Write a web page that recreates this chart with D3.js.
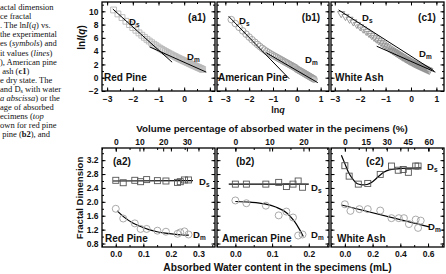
<!DOCTYPE html>
<html>
<head>
<meta charset="utf-8">
<script src="https://cdn.jsdelivr.net/npm/d3@7"></script>
<style>
  body { margin: 0; background: #fff; }
  svg { display: block; }
  text { font-family: "Liberation Sans", Arial, sans-serif; font-weight: bold; fill: #111; }
  .cap { font-family: "Liberation Serif", "Times New Roman", serif; font-weight: normal; font-size: 8.5px; white-space: pre; }
</style>
</head>
<body>
<svg id="fig" width="446" height="274"></svg>
<script>
// ---- data -----------------------------------------------------------------
// shared lnq grid of the scattering curves
var lnq = [-2.75,-2.58,-2.42,-2.27,-2.13,-2.00,-1.88,-1.76,-1.65,-1.55,-1.45,-1.36,-1.27,-1.18,-1.10,-1.02,
  -0.94,-0.87,-0.80,-0.73,-0.66,-0.60,-0.54,-0.48,-0.42,-0.36,-0.31,-0.25,-0.20,-0.15,-0.10,-0.05,
  0.00,0.05,0.10,0.14,0.19,0.23,0.28,0.32,0.36,0.40,0.44,0.48,0.52,0.56,0.60,0.64,0.68,0.72]

var lnIRedPine = [10.2,9.6,9.05,8.5,8.0,7.55,7.15,6.75,6.4,6.08,5.78,5.52,5.27,5.03,4.82,4.62,
  4.43,4.26,4.10,3.95,3.80,3.67,3.55,3.43,3.31,3.19,3.09,2.98,2.88,2.79,2.70,2.61,
  2.52,2.43,2.34,2.27,2.18,2.11,2.02,1.95,1.88,1.81,1.74,1.67,1.60,1.53,1.46,1.39,1.32,1.25]

var lnIAmericanPine = [8.75,8.15,7.58,7.05,6.56,6.12,5.72,5.34,5.00,4.70,4.42,4.18,3.96,3.76,3.58,3.42,
  3.26,3.12,2.98,2.84,2.70,2.58,2.46,2.34,2.22,2.10,2.00,1.88,1.78,1.68,1.58,1.48,
  1.30,1.20,1.10,1.02,0.92,0.83,0.73,0.64,0.56,0.47,0.39,0.30,0.22,0.13,0.05,-0.04,-0.12,-0.21]

var lnIWhiteAsh = [9.65,9.22,8.8,8.4,8.02,7.66,7.32,6.98,6.66,6.37,6.08,5.82,5.56,5.31,5.08,4.86,
  4.65,4.46,4.28,4.10,3.93,3.78,3.63,3.48,3.34,3.2,3.08,2.95,2.83,2.72,2.61,2.50,
  2.40,2.30,2.20,2.12,2.03,1.95,1.86,1.79,1.72,1.65,1.58,1.51,1.44,1.37,1.30,1.23,1.16,1.09]

// fitted straight lines [lnq, lnI] (surface Ds, mass Dm)
var dsLineRedPine = [[-2.78, 10.35], [-0.47, 2.34]]
var dmLineRedPine = [[-1.35, 4.65], [0.86, 0.84]]
var dsLineAmericanPine = [[-2.86, 9.24], [-0.32, -0.15]]
var dmLineAmericanPine = [[-1.28, 3.75], [0.88, -0.75]]
var dsLineWhiteAsh = [[-2.85, 10.2], [0.9, 1.05]]
var dmLineWhiteAsh = [[-1.35, 4.74], [0.96, 0.84]]

// fractal dimension vs absorbed water (mL)
var waterRedPine = [0.0, 0.027, 0.069, 0.09, 0.112, 0.151, 0.182, 0.224, 0.234, 0.249, 0.264]
var dsRedPine = [2.62, 2.55, 2.62, 2.58, 2.64, 2.61, 2.60, 2.56, 2.58, 2.63, 2.63]
var dmRedPine = [1.80, 1.52, 1.38, 1.22, 1.22, 1.17, 1.14, 1.08, 1.12, 1.15, 1.06]
var dsFitRedPine = [[-0.01, 2.60], [0.28, 2.61]]
var dmFitRedPine = [[0.005,1.74],[0.03,1.56],[0.06,1.40],[0.09,1.29],[0.12,1.20],[0.15,1.14],[0.18,1.10],[0.21,1.07],[0.24,1.05],[0.265,1.04]]

var waterAmericanPine = [0.0, 0.03, 0.083, 0.118, 0.139, 0.157, 0.171, 0.183]
var dsAmericanPine = [2.51, 2.51, 2.51, 2.56, 2.44, 2.51, 2.60, 2.42]
var dmAmericanPine = [2.04, 1.96, 1.89, 1.61, 1.72, 1.55, 1.03, 1.06]
var dsFitAmericanPine = [[-0.018, 2.51], [0.2, 2.51]]
var dmFitAmericanPine = [[0,2.01],[0.04,1.99],[0.08,1.94],[0.11,1.85],[0.14,1.68],[0.16,1.45],[0.175,1.2],[0.185,1.0]]

var waterWhiteAsh = [0.0, 0.031, 0.097, 0.165, 0.255, 0.336, 0.385, 0.421, 0.458, 0.511, 0.528]
var dsWhiteAsh = [3.04, 2.74, 2.51, 2.53, 2.79, 3.03, 2.91, 2.93, 2.85, 3.03, 3.03]
var waterWhiteAshDm = [0.0, 0.04, 0.105, 0.165, 0.255, 0.336, 0.389, 0.426, 0.462, 0.511, 0.528, 0.547]
var dmWhiteAsh = [1.93, 1.74, 1.79, 1.79, 1.75, 1.53, 1.53, 1.53, 1.36, 1.49, 1.25, 1.46]
var dsFitWhiteAsh = [[-0.025,3.34],[0.0,3.10],[0.025,2.86],[0.06,2.64],[0.09,2.52],[0.13,2.49],[0.16,2.50],[0.2,2.58],[0.24,2.72],[0.28,2.85],[0.32,2.92],[0.38,2.95],[0.45,2.97],[0.55,2.98]]
var dmFitWhiteAsh = [[-0.024, 1.91], [0.608, 1.28]]

// tick labels
var lnqTicks = [-3, -2, -1, 0, 1]
var lnITicks = [-2, 0, 2, 4, 6, 8, 10]
var fdTicks = [0.8, 1.2, 1.6, 2.0, 2.4, 2.8, 3.2]
var mlTicksA = [0.0, 0.1, 0.2, 0.3], mlTicksB = [0.0, 0.1, 0.2], mlTicksC = [0.0, 0.2, 0.4, 0.6]
var pctTicksA = [0, 10, 20, 30], pctTicksB = [0, 10, 20], pctTicksC = [0, 15, 30, 45, 60]

var caption = [
  "actal dimension", "ce fractal", ". The ln<tspan font-style='italic'>I</tspan>(<tspan font-style='italic'>q</tspan>) vs.",
  "the experimental", "es (<tspan font-style='italic'>symbols</tspan>) and", "it values (<tspan font-style='italic'>lines</tspan>)",
  "), American pine", " ash (<tspan font-weight='bold'>c1</tspan>)", "e dry state. The",
  "and D<tspan font-size='6' dy='1.5'>s</tspan><tspan dy='-1.5'> with water</tspan>",
  "<tspan font-style='italic'>a abscissa</tspan>) or the", "age of absorbed", "ecimens (<tspan font-style='italic'>top</tspan>",
  "own for red pine", " pine (<tspan font-weight='bold'>b2</tspan>), and"
]

// ---- drawing ----------------------------------------------------------------
var svg = d3.select('#fig')
var FONT = '"Liberation Sans", Arial, sans-serif'

svg.selectAll('text.cap').data(caption).enter().append('text')
  .attr('class', 'cap').attr('x', 0).attr('y', function (d, i) { return 10 + i * 9.1 })
  .html(function (d) { return d })

function range(a, b, s) { var r = []; for (var v = a; v <= b + 1e-9; v += s) r.push(+v.toFixed(4)); return r }

function styleAxis(g, size) {
  g.select('.domain').remove()
  g.attr('font-size', size).attr('font-family', FONT).attr('font-weight', 'bold')
}

function panel(o) {
  var x = d3.scaleLinear().domain(o.xDomain).range([o.x0, o.x1])
  var y = d3.scaleLinear().domain(o.yDomain).range([o.y1, o.y0])
  var g = svg.append('g')

  var xMinor = range(o.xMinor[0], o.xMinor[1], o.xMinor[2]).filter(function (v) { return v >= o.xDomain[0] && v <= o.xDomain[1] })
  var yMinor = range(o.yMinor[0], o.yMinor[1], o.yMinor[2]).filter(function (v) { return v >= o.yDomain[0] && v <= o.yDomain[1] })

  // minor ticks on all sides
  g.append('g').attr('transform', 'translate(0,' + o.y1 + ')').call(d3.axisBottom(x).tickValues(xMinor).tickSize(-2).tickFormat('')).call(styleAxis, 8)
  g.append('g').attr('transform', 'translate(0,' + o.y0 + ')').call(d3.axisTop(x).tickValues(xMinor).tickSize(-2).tickFormat('')).call(styleAxis, 8)
  g.append('g').attr('transform', 'translate(' + o.x0 + ',0)').call(d3.axisLeft(y).tickValues(yMinor).tickSize(-2).tickFormat('')).call(styleAxis, 8)
  g.append('g').attr('transform', 'translate(' + o.x1 + ',0)').call(d3.axisRight(y).tickValues(yMinor).tickSize(-2).tickFormat('')).call(styleAxis, 8)

  // major ticks
  g.append('g').attr('transform', 'translate(0,' + o.y1 + ')')
    .call(d3.axisBottom(x).tickValues(o.xTicks).tickSize(-3.5).tickPadding(o.xPad).tickFormat(o.xFormat)).call(styleAxis, 8.5)
  g.append('g').attr('transform', 'translate(0,' + o.y0 + ')')
    .call(d3.axisTop(x).tickValues(o.xTicks).tickSize(-3.5).tickFormat('')).call(styleAxis, 8.5)
  g.append('g').attr('transform', 'translate(' + o.x0 + ',0)')
    .call(d3.axisLeft(y).tickValues(o.yTicks).tickSize(-3.5).tickPadding(3.5).tickFormat(o.showY ? o.yFormat : '')).call(styleAxis, 8.5)
  g.append('g').attr('transform', 'translate(' + o.x1 + ',0)')
    .call(d3.axisRight(y).tickValues(o.yTicks).tickSize(-3.5).tickFormat('')).call(styleAxis, 8.5)

  // optional secondary top axis (volume %)
  if (o.pct) {
    var xp = d3.scaleLinear().domain(o.xDomain.map(function (v) { return v * o.pct.perMl })).range([o.x0, o.x1])
    g.append('g').attr('transform', 'translate(0,' + o.y0 + ')')
      .call(d3.axisTop(xp).tickValues(o.pct.ticks).tickSize(-3.5).tickPadding(2.7).tickFormat(d3.format('d'))).call(styleAxis, 8.5)
  }

  g.append('rect').attr('x', o.x0).attr('y', o.y0).attr('width', o.x1 - o.x0).attr('height', o.y1 - o.y0)
    .attr('fill', 'none').attr('stroke', '#000').attr('stroke-width', 1.3)

  return { g: g, x: x, y: y }
}

function label(g, x, y, txt, size, anchor) {
  return g.append('text').attr('x', x).attr('y', y).attr('font-size', size).attr('text-anchor', anchor || 'start').text(txt)
}
function dLabel(g, x, y, sub) {
  var t = g.append('text').attr('x', x).attr('y', y).attr('font-size', 9.5)
  t.append('tspan').text('D')
  t.append('tspan').attr('font-size', 6.5).attr('dy', 2).text(sub)
}

var lineGen = function (p) {
  return d3.line().x(function (d) { return p.x(d[0]) }).y(function (d) { return p.y(d[1]) })
}

// ---- top row: lnI(q) vs lnq ----
var topCfg = [
  { x0: 102, x1: 215, xDomain: [-3.2, 1.2], data: lnIRedPine, ds: dsLineRedPine, dm: dmLineRedPine, sym: d3.symbolSquare, size: 34, rot: 0, col: '#b8b8b8',
    name: 'Red Pine', tag: '(a1)', nameX: 104, tagX: 197, dsPos: [129, 25], dmPos: [187, 60] },
  { x0: 217, x1: 329, xDomain: [-3.35, 1.35], data: lnIAmericanPine, ds: dsLineAmericanPine, dm: dmLineAmericanPine, sym: d3.symbolCircle, size: 34, rot: 0, col: '#a0a0a0',
    name: 'American Pine', tag: '(b1)', nameX: 218, tagX: 311, dsPos: [239, 24], dmPos: [305, 63] },
  { x0: 331, x1: 444, xDomain: [-3.15, 1.3], data: lnIWhiteAsh, ds: dsLineWhiteAsh, dm: dmLineWhiteAsh, sym: d3.symbolTriangle, size: 22, rot: 180, col: '#909090',
    name: 'White Ash', tag: '(c1)', nameX: 335, tagX: 427, dsPos: [362, 21], dmPos: [419, 57] }
]

topCfg.forEach(function (c, i) {
  var p = panel({ x0: c.x0, x1: c.x1, y0: 2, y1: 91, xDomain: c.xDomain, yDomain: [-2, 11.4],
    xTicks: lnqTicks, xMinor: [-3.5, 1.5, 0.5], yTicks: lnITicks, yMinor: [-2, 11, 1],
    xPad: 4.5, xFormat: d3.format('d'), yFormat: d3.format('d'), showY: i === 0 })
  var sym = d3.symbol().type(c.sym).size(c.size)
  p.g.append('g').selectAll('path').data(c.data).enter().append('path')
    .attr('d', sym)
    .attr('transform', function (d, k) { return 'translate(' + p.x(lnq[k]) + ',' + p.y(d) + ') rotate(' + c.rot + ')' })
    .attr('fill', 'none').attr('stroke', c.col).attr('stroke-width', 0.9)
  p.g.append('path').datum(c.ds).attr('d', lineGen(p)).attr('stroke', '#000').attr('stroke-width', 1).attr('fill', 'none')
  p.g.append('path').datum(c.dm).attr('d', lineGen(p)).attr('stroke', '#000').attr('stroke-width', 1).attr('fill', 'none')
  label(p.g, c.nameX, 81, c.name, 10)
  label(p.g, c.tagX, 21, c.tag, 10, 'middle')
  dLabel(p.g, c.dsPos[0], c.dsPos[1], 's')
  dLabel(p.g, c.dmPos[0], c.dmPos[1], 'm')
})

// ---- bottom row: fractal dimension vs absorbed water ----
var botCfg = [
  { x0: 102, x1: 215, xDomain: [-0.05, 0.36], xTicks: mlTicksA, pct: { perMl: 116.3, ticks: pctTicksA },
    water: waterRedPine, waterDm: waterRedPine, ds: dsRedPine, dm: dmRedPine, dsFit: dsFitRedPine, dmFit: dmFitRedPine,
    name: 'Red Pine', tag: '(a2)', nameX: 105, tagX: 113, dsPos: [199, 185], dmPos: [193, 238] },
  { x0: 217, x1: 329, xDomain: [-0.05, 0.255], xTicks: mlTicksB, pct: { perMl: 107.9, ticks: pctTicksB },
    water: waterAmericanPine, waterDm: waterAmericanPine, ds: dsAmericanPine, dm: dmAmericanPine, dsFit: dsFitAmericanPine, dmFit: dmFitAmericanPine,
    name: 'American Pine', tag: '(b2)', nameX: 222, tagX: 236, dsPos: [311, 191], dmPos: [311, 238] },
  { x0: 331, x1: 444, xDomain: [-0.1, 0.715], xTicks: mlTicksC, pct: { perMl: 99.2, ticks: pctTicksC },
    water: waterWhiteAsh, waterDm: waterWhiteAshDm, ds: dsWhiteAsh, dm: dmWhiteAsh, dsFit: dsFitWhiteAsh, dmFit: dmFitWhiteAsh,
    name: 'White Ash', tag: '(c2)', nameX: 337, tagX: 366, dsPos: [427, 170], dmPos: [428, 230] }
]

botCfg.forEach(function (c, i) {
  var step = c.xTicks[1] - c.xTicks[0]
  var p = panel({ x0: c.x0, x1: c.x1, y0: 148, y1: 247, xDomain: c.xDomain, yDomain: [0.7, 3.55],
    xTicks: c.xTicks, xMinor: [-step, 0.8, step / 2], yTicks: fdTicks, yMinor: [0.6, 3.6, 0.2],
    xPad: 3.5, xFormat: d3.format('.1f'), yFormat: d3.format('.1f'), showY: i === 0, pct: c.pct })

  p.g.append('path').datum(c.dsFit).attr('d', lineGen(p).curve(d3.curveMonotoneX)).attr('stroke', '#000').attr('stroke-width', 1.2).attr('fill', 'none')
  p.g.append('path').datum(c.dmFit).attr('d', lineGen(p).curve(d3.curveMonotoneX)).attr('stroke', '#000').attr('stroke-width', 1.2).attr('fill', 'none')

  p.g.append('g').selectAll('rect').data(c.ds).enter().append('rect')
    .attr('x', function (d, k) { return p.x(c.water[k]) - 3 }).attr('y', function (d) { return p.y(d) - 3 })
    .attr('width', 6).attr('height', 6).attr('fill', 'none').attr('stroke', '#555').attr('stroke-width', 0.9)
  p.g.append('g').selectAll('circle').data(c.dm).enter().append('circle')
    .attr('cx', function (d, k) { return p.x(c.waterDm[k]) }).attr('cy', function (d) { return p.y(d) })
    .attr('r', 3.5).attr('fill', 'none').attr('stroke', '#a0a0a0').attr('stroke-width', 0.9)

  label(p.g, c.nameX, 242, c.name, 10)
  label(p.g, c.tagX, 165, c.tag, 10)
  dLabel(p.g, c.dsPos[0], c.dsPos[1], 's')
  dLabel(p.g, c.dmPos[0], c.dmPos[1], 'm')
})

// ---- axis titles ----
var lq = svg.append('text').attr('x', 278).attr('y', 112.5).attr('font-size', 9).attr('text-anchor', 'middle')
lq.append('tspan').text('ln')
lq.append('tspan').attr('font-style', 'italic').text('q')

label(svg, 272, 131.5, 'Volume percentage of absorbed water in the pecimens (%)', 9.8, 'middle')
label(svg, 277.5, 270.5, 'Absorbed Water content in the specimens (mL)', 10.2, 'middle')

var yl = svg.append('text').attr('transform', 'translate(85,37.5) rotate(-90)').attr('font-size', 10).attr('text-anchor', 'middle')
yl.append('tspan').text('ln')
yl.append('tspan').attr('font-style', 'italic').text('I')
yl.append('tspan').text('(')
yl.append('tspan').attr('font-style', 'italic').text('q')
yl.append('tspan').text(')')

svg.append('text').attr('transform', 'translate(83,198) rotate(-90)').attr('font-size', 9.5).attr('text-anchor', 'middle')
  .text('Fractal Dimension')
</script>
</body>
</html>
